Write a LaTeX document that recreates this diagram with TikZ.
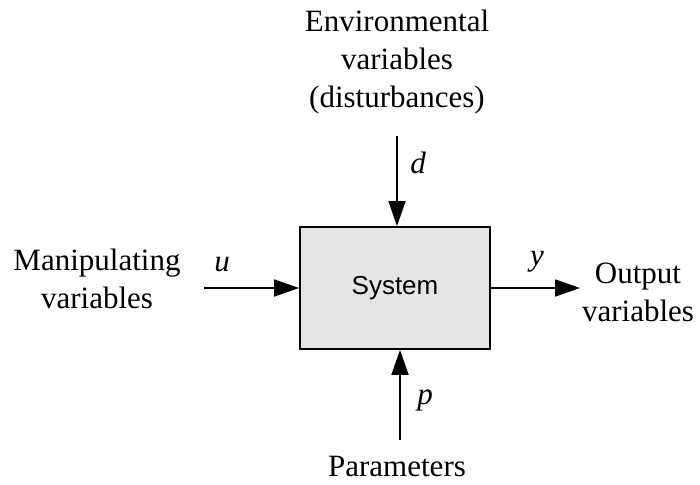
\documentclass[tikz,border=0pt]{standalone}
\usepackage{fontspec}
\setmainfont{Liberation Serif}
\setsansfont{Liberation Sans}
\usetikzlibrary{arrows.meta}

\begin{document}
\begin{tikzpicture}[
  x=1pt, y=-1pt,
  line width=1.8pt,
  every node/.style={font=\fontsize{31}{38}\selectfont, inner sep=0pt},
  block/.style={draw,fill=black!10,minimum width=190pt,minimum height=122pt,
    font=\sffamily\fontsize{26}{30}\selectfont},
  sig/.style={-{Triangle[length=25pt,width=17pt]}},
  var/.style={font=\fontsize{31}{38}\selectfont\itshape}
]
  \useasboundingbox (0,0) rectangle (700,484);

  \node[block] (sys) at (395,288) {System};

  \coordinate (u0) at (204,288);
  \coordinate (y1) at (580,288);
  \coordinate (d0) at (397,136);
  \coordinate (p0) at (400,440);

  \draw[sig] (u0) -- (sys.west);
  \draw[sig] (sys.east) -- (y1);
  \draw[sig] (d0) -- (d0 |- sys.north);
  \draw[sig] (p0) -- (p0 |- sys.south);

  \node[var] (u) at (222,265) {u};
  \node[var] (y) at (537,262) {y};
  \node[var] (d) at (418,163) {d};
  \node[var] (p) at (425,400) {p};

  \node[align=center] (manip) at (97,279) {Manipulating\\variables};
  \node[align=center] (out) at (638,292) {Output\\variables};
  \node[align=center] (env) at (397,62) {Environmental\\variables\\(disturbances)};
  \node (par) at (397,466) {Parameters};
\end{tikzpicture}
\end{document}
